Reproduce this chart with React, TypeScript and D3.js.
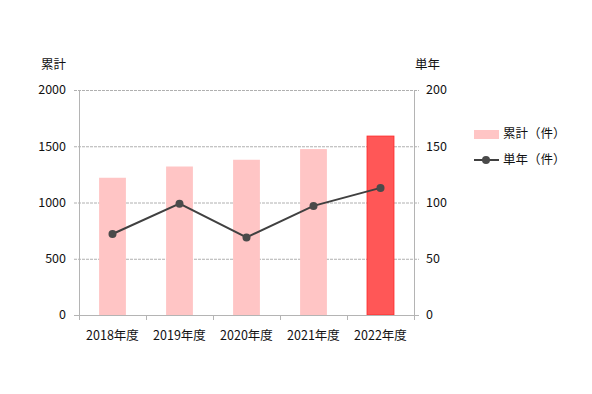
import React, { useEffect, useRef } from 'react'
import * as d3 from 'd3'

const categories = ['2018年度', '2019年度', '2020年度', '2021年度', '2022年度']
const cumulative = [1220, 1320, 1380, 1475, 1590]
const yearly = [72, 99, 69, 97, 113]
const leftTicks = [0, 500, 1000, 1500, 2000]
const rightTicks = [0, 50, 100, 150, 200]

const width = 592
const height = 394
const margin = { top: 90, right: 178, bottom: 79, left: 79 }
const font = '"Noto Sans CJK JP", "Noto Sans", sans-serif'
const fontSize = 12.5
const axisColor = '#b4b4b4'

const App: React.FC = () => {
    const svgRef = useRef<SVGSVGElement | null>(null)

    useEffect(() => {
        const svg = d3.select(svgRef.current)
        svg.selectAll('*').remove()

        const x0 = margin.left
        const x1 = width - margin.right
        const y0 = height - margin.bottom
        const y1 = margin.top

        const xScale = d3.scaleBand<string>().domain(categories).range([x0, x1]).paddingInner(0.6).paddingOuter(0.3)
        const xBand = d3.scaleBand<string>().domain(categories).range([x0, x1])
        const yLeft = d3.scaleLinear().domain([0, 2000]).range([y0, y1])
        const yRight = d3.scaleLinear().domain([0, 200]).range([y0, y1])

        // gridlines (dashed), extending a little past both axes
        svg.append('g')
            .selectAll('line')
            .data(leftTicks.filter((t) => t > 0))
            .join('line')
            .attr('x1', x0 - 5)
            .attr('x2', x1 + 5)
            .attr('y1', (d) => yLeft(d) + 0.5)
            .attr('y2', (d) => yLeft(d) + 0.5)
            .attr('stroke', '#b0b0b0')
            .attr('stroke-dasharray', '3,1')

        // bars
        svg.append('g')
            .selectAll('rect')
            .data(cumulative)
            .join('rect')
            .attr('x', (_, i) => xScale(categories[i])!)
            .attr('width', xScale.bandwidth())
            .attr('y', (d) => yLeft(d))
            .attr('height', (d) => y0 - yLeft(d))
            .attr('fill', (_, i) => (i === categories.length - 1 ? '#ff5757' : '#ffc5c5'))
            .attr('stroke', (_, i) => (i === categories.length - 1 ? '#ff2e2e' : 'none'))
            .attr('stroke-width', 1)

        // axes lines
        const axes = svg.append('g').attr('stroke', axisColor).attr('stroke-width', 1)
        axes.append('line').attr('x1', x0 + 0.5).attr('x2', x0 + 0.5).attr('y1', y1).attr('y2', y0)
        axes.append('line').attr('x1', x1 + 0.5).attr('x2', x1 + 0.5).attr('y1', y1).attr('y2', y0)
        axes.append('line').attr('x1', x0 - 5).attr('x2', x1 + 5).attr('y1', y0 + 0.5).attr('y2', y0 + 0.5)
        axes.selectAll('line.tick')
            .data(d3.range(categories.length + 1))
            .join('line')
            .attr('class', 'tick')
            .attr('x1', (i) => Math.round(x0 + i * xBand.step()) + 0.5)
            .attr('x2', (i) => Math.round(x0 + i * xBand.step()) + 0.5)
            .attr('y1', y0)
            .attr('y2', y0 + 5)

        // left tick labels
        svg.append('g')
            .selectAll('text')
            .data(leftTicks)
            .join('text')
            .attr('x', x0 - 13)
            .attr('y', (d) => yLeft(d))
            .attr('dy', '0.35em')
            .attr('text-anchor', 'end')
            .attr('font-size', fontSize)
            .attr('font-family', font)
            .attr('fill', '#111')
            .text((d) => d)

        // right tick labels
        svg.append('g')
            .selectAll('text')
            .data(rightTicks)
            .join('text')
            .attr('x', x1 + 12)
            .attr('y', (d) => yRight(d))
            .attr('dy', '0.35em')
            .attr('text-anchor', 'start')
            .attr('font-size', fontSize)
            .attr('font-family', font)
            .attr('fill', '#111')
            .text((d) => d)

        // category labels
        svg.append('g')
            .selectAll('text')
            .data(categories)
            .join('text')
            .attr('x', (d) => xBand(d)! + xBand.bandwidth() / 2)
            .attr('y', y0 + 21)
            .attr('dy', '0.35em')
            .attr('text-anchor', 'middle')
            .attr('font-size', fontSize)
            .attr('font-family', font)
            .attr('fill', '#111')
            .text((d) => d)

        // axis titles
        svg.append('text')
            .attr('x', 41)
            .attr('y', 65)
            .attr('dy', '0.35em')
            .attr('font-size', fontSize)
            .attr('font-family', font)
            .attr('fill', '#111')
            .text('累計')
        svg.append('text')
            .attr('x', 415)
            .attr('y', 65)
            .attr('dy', '0.35em')
            .attr('font-size', fontSize)
            .attr('font-family', font)
            .attr('fill', '#111')
            .text('単年')

        // line series
        const line = d3
            .line<number>()
            .x((_, i) => xBand(categories[i])! + xBand.bandwidth() / 2)
            .y((d) => yRight(d))
        svg.append('path')
            .datum(yearly)
            .attr('fill', 'none')
            .attr('stroke', '#404040')
            .attr('stroke-width', 2)
            .attr('d', line)
        svg.append('g')
            .selectAll('circle')
            .data(yearly)
            .join('circle')
            .attr('cx', (_, i) => xBand(categories[i])! + xBand.bandwidth() / 2)
            .attr('cy', (d) => yRight(d))
            .attr('r', 4)
            .attr('fill', '#4a4a4a')

        // legend
        const legend = svg.append('g').attr('font-size', fontSize).attr('font-family', font).attr('fill', '#111')
        legend.append('rect').attr('x', 474).attr('y', 130).attr('width', 25).attr('height', 9).attr('fill', '#ffc5c5')
        legend.append('text').attr('x', 503).attr('y', 134).attr('dy', '0.35em').text('累計（件）')
        legend.append('line')
            .attr('x1', 474)
            .attr('x2', 499)
            .attr('y1', 160)
            .attr('y2', 160)
            .attr('stroke', '#404040')
            .attr('stroke-width', 2)
        legend.append('circle').attr('cx', 486).attr('cy', 160).attr('r', 4).attr('fill', '#4a4a4a')
        legend.append('text').attr('x', 503).attr('y', 160).attr('dy', '0.35em').text('単年（件）')
    }, [])

    return <svg ref={svgRef} width={width} height={height} style={{ position: 'absolute', left: 0, top: 0 }} />
}

export default App
